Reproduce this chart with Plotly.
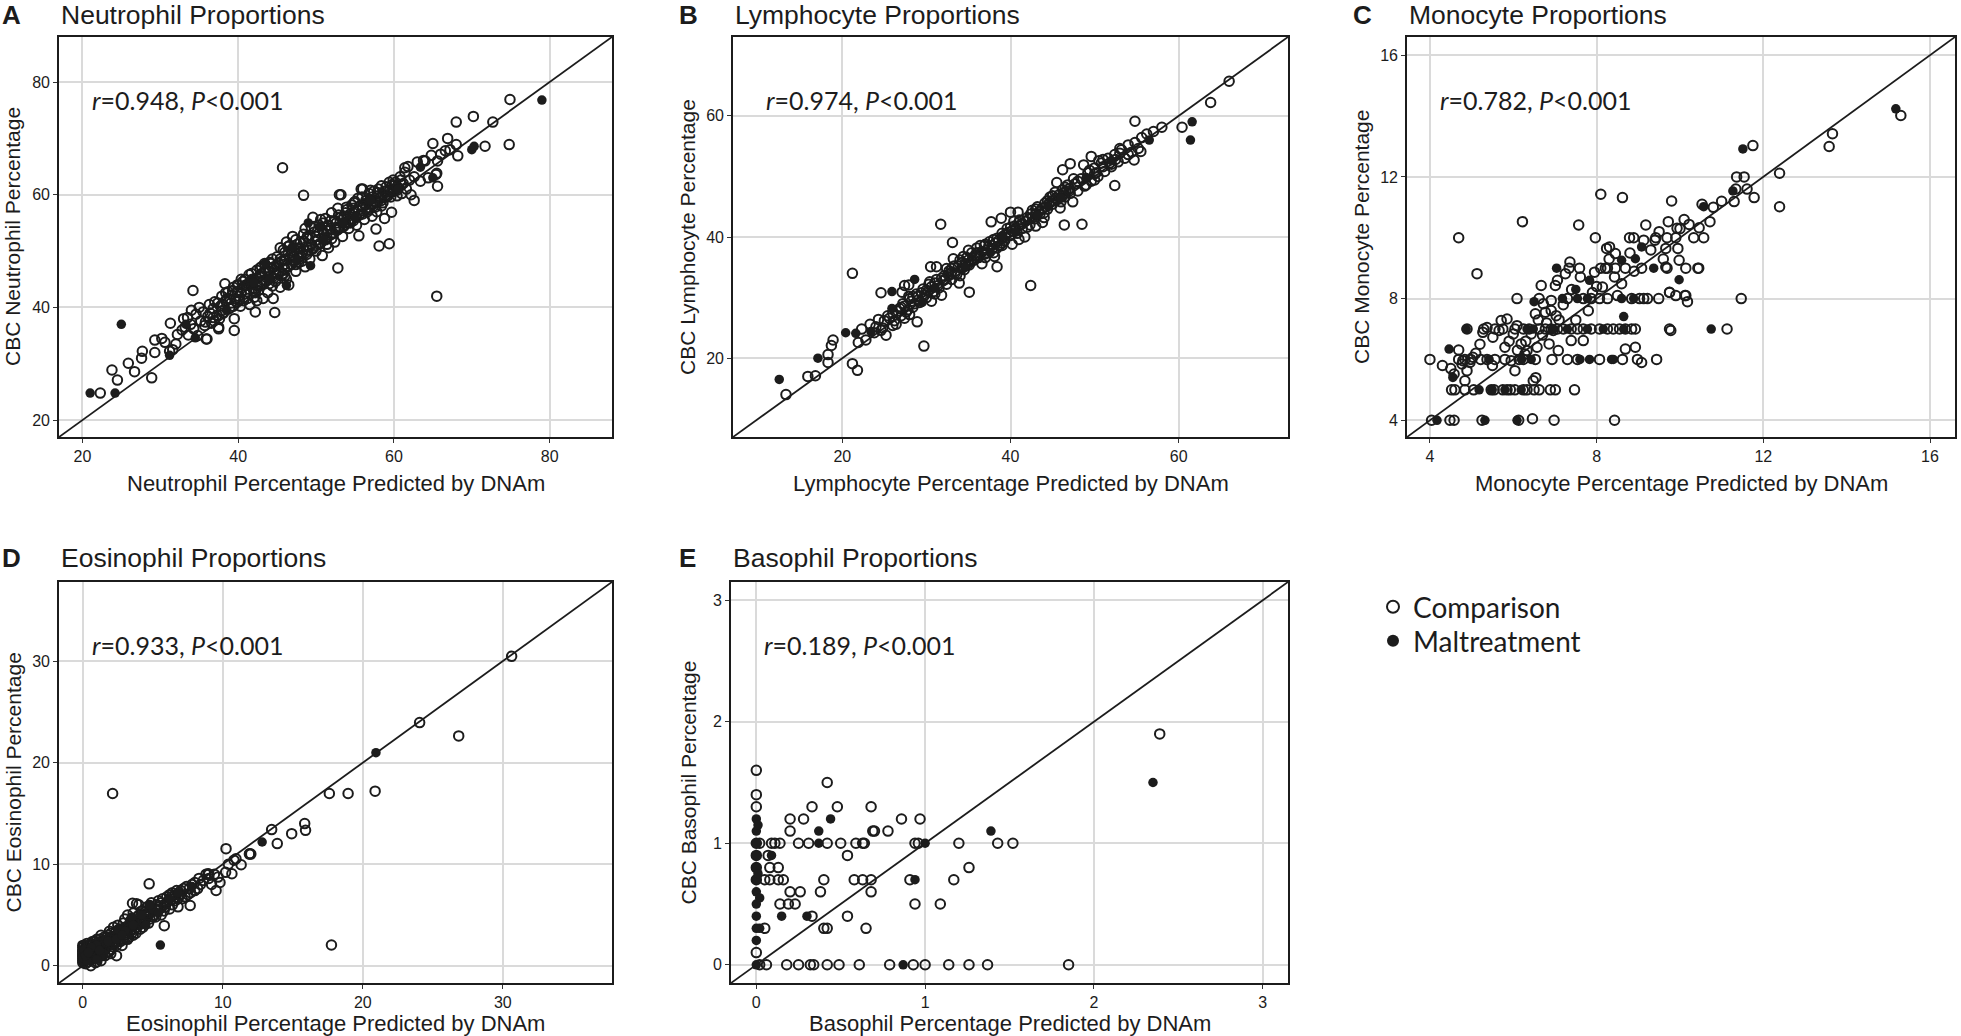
import plotly.graph_objects as go

W, H = 1961, 1036

# ---------------- data ----------------
neut_comparison = [
    (22.3,24.8),(23.8,28.9),(24.5,27.1),(25.9,30.1),(26.7,28.6),(27.6,31.0),(27.7,32.2),(28.9,27.5),
    (29.3,32.0),(29.3,34.2),(30.2,34.5),(30.6,33.8),(31.3,37.2),(31.2,32.2),(31.6,32.5),(32.0,33.5),
    (32.2,35.2),(32.8,36.0),(33.0,38.0),(33.6,35.1),(34.2,43.0),(34.0,39.5),
    (33.2,36.5),(33.5,38.2),(33.9,37.0),(34.3,36.2),(34.6,38.8),(34.8,35.0),(35.0,40.0),(35.2,37.6),
    (35.5,39.2),(35.7,36.8),(35.9,34.4),(36.1,38.4),(36.3,40.5),(36.6,37.2),(36.8,39.8),(37.0,41.0),
    (37.3,38.6),(37.5,36.2),(37.7,40.2),(37.9,42.0),(38.1,39.0),(38.3,44.2),(38.4,41.2),(38.7,42.8),
    (38.9,39.8),(39.1,40.8),(39.3,43.0),(39.5,38.0),(39.7,41.5),(39.9,44.0),(40.1,42.0),(40.3,40.2),
    (40.5,43.5),(40.7,41.2),(40.9,45.0),(41.1,42.8),(41.3,44.2),(41.5,40.5),(41.7,46.0),(41.9,43.4),
    (42.1,41.8),(42.2,39.2),(42.4,45.2),(42.6,43.0),(42.8,47.0),(43.0,44.4),(43.2,41.6),(43.4,46.2),
    (43.6,44.8),(43.8,42.6),(44.0,48.0),(44.2,45.6),(44.4,43.8),(44.6,47.2),(44.8,44.6),(45.0,49.0),
    (45.2,46.4),(45.4,43.6),(45.6,48.2),(45.8,50.2),(46.0,46.8),(46.2,45.0),(46.4,49.4),(46.6,51.0),
    (46.8,47.6),(47.0,52.6),(47.2,49.0),(47.4,46.4),(47.6,50.4),(47.8,48.0),(48.0,51.6),(48.2,49.6),
    (48.4,53.0),(48.6,47.2),(48.8,50.8),(49.0,52.2),(49.2,48.6),(49.4,51.2),(49.6,56.0),(49.8,53.4),
    (50.0,50.0),(50.2,52.0),(50.4,54.6),(50.6,51.4),(50.8,49.2),(51.0,53.0),(51.2,55.8),(51.4,52.4),
    (51.6,50.6),(51.8,54.0),(52.0,56.8),(52.2,53.2),(52.4,51.6),(52.6,55.0),(52.8,57.6),(53.0,54.2),
    (53.2,60.0),(53.4,52.6),(53.6,56.2),(53.8,55.0),(54.0,57.4),(54.2,54.0),(54.4,56.6),(54.6,58.2),
    (54.8,55.4),(55.0,57.0),(55.2,54.6),(55.4,59.4),(55.6,56.4),(55.8,61.0),(56.0,57.8),(56.2,55.6),
    (56.4,59.0),(56.6,57.0),(56.8,60.2),(57.0,58.4),(57.2,56.2),(57.4,60.6),(57.6,58.8),(57.8,57.0),
    (58.0,61.0),(58.2,59.4),(58.4,58.0),(58.6,60.0),(58.8,55.8),(59.0,61.4),(59.2,59.8),(59.4,62.2),
    (59.6,60.4),(59.8,61.8),(60.0,60.6),(60.2,62.2),(60.4,59.8),(60.6,61.2),(60.8,63.2),(61.0,60.2),
    (61.2,62.0),(61.4,64.0),(61.6,61.0),(61.8,65.0),(62.0,62.6),(62.2,60.0),(62.6,63.2),(63.0,65.8),
    (63.4,62.4),(64.0,66.0),(64.4,63.0),(64.8,67.0),(65.4,63.6),(66.0,67.2),(66.6,67.8),(67.2,68.0),
    (41.0,44.0),(42.0,45.0),(43.0,46.0),(44.0,46.4),(45.0,47.4),(46.0,48.4),(47.0,49.0),(48.0,50.4),
    (46.5,44.0),(44.5,41.6),(42.5,43.8),(40.0,44.0),(36.0,34.4),(37.5,36.5),(53.0,60.0),(56.0,61.0),
    (45.7,64.8),(48.4,59.9),(65.5,42.0),(52.8,47.0),(58.1,50.9),(59.4,51.3),(55.5,52.7),(57.7,53.9),
    (44.7,39.1),(39.5,35.9),(65.0,69.1),(66.9,70.0),(68.0,72.9),(70.2,73.9),(72.7,72.9),(74.9,76.9),
    (71.7,68.6),(74.8,68.9),(68.0,68.9),(68.2,66.9),(65.6,66.0),(65.6,61.5),(65.5,63.8),(63.8,66.1),
    (62.6,59.0),(61.4,64.8),(59.7,56.9),
    (38.0,40.6),(38.6,41.6),(39.2,42.2),(39.8,41.0),(40.4,42.6),(40.8,43.8),(41.2,41.6),(41.6,44.6),
    (42.0,43.0),(42.4,44.0),(42.8,45.6),(43.2,44.8),(43.6,46.6),(44.0,44.2),(44.4,47.0),(44.8,46.0),
    (45.2,47.8),(45.6,45.6),(46.0,49.8),(46.4,47.2),(46.8,50.0),(47.2,48.2),(47.6,51.2),(48.0,49.2),
    (48.4,51.8),(48.8,49.4),(49.2,52.8),(49.6,50.4),(50.0,52.6),(50.4,51.2),(50.8,53.8),(51.2,52.0),
    (51.6,54.6),(52.0,53.0),(52.4,55.4),(52.8,53.8),(53.2,56.0),(53.6,54.4),(54.0,56.0),(54.4,55.0),
    (54.8,57.6),(55.2,56.0),(55.6,58.0),(56.0,56.6),(56.4,58.2),(56.8,57.4),(57.2,59.6),(57.6,57.8),
    (58.0,59.8),(58.4,59.0),(58.8,60.6),(59.2,60.8),(59.6,59.6),(60.0,61.6),(60.4,60.8),(61.0,61.8),
    (44.2,47.8),(45.4,48.6),(46.6,48.8),(47.8,50.6),(49.0,50.2),(50.2,53.6),(51.4,53.6),(52.6,54.2),
    (53.8,56.8),(55.0,58.8),(43.0,47.2),(41.8,45.0),(40.6,44.6),(39.4,40.2),(37.6,38.0),(36.8,38.2),
    (35.8,37.4),(48.6,54.0),(50.6,55.6),(46.2,51.6),(57.0,60.8),(42.4,41.2),(45.8,46.0),(47.4,47.6),
    (36.4,39.0),(36.9,37.6),(37.4,40.8),(37.9,39.4),(38.4,42.6),(38.9,41.4),(39.4,43.6),(39.9,42.8),
    (40.4,45.0),(40.9,42.4),(41.4,45.8),(41.9,44.2),(42.4,46.6),(42.9,44.0),(43.4,47.8),(43.9,45.4),
    (44.4,48.6),(44.9,47.4),(45.4,50.6),(45.9,47.6),(46.4,50.8),(46.9,48.4),(47.4,52.0),(47.9,49.8),
    (48.4,50.2),(48.9,52.6),(49.4,54.2),(49.9,51.8),(50.4,53.2),(50.9,55.0),(51.4,51.2),(51.9,55.4),
    (52.4,54.0),(52.9,56.4),(53.4,55.6),(53.9,57.8),(54.4,55.6),(54.9,58.6),(55.4,57.2),(55.9,59.6),
    (56.4,57.6),(56.9,59.0),(57.4,58.0),(57.9,60.4),(58.4,61.6),(58.9,59.6),(59.4,60.6),(59.9,62.6),
    (60.4,61.4),(60.9,62.6),(44.6,45.2),(46.0,45.6),(48.2,48.2),(50.0,51.0),(52.0,52.2),(54.2,55.2),
    (42.2,42.6),(40.2,41.4),(56.2,58.4),(58.6,58.6),
]
neut_maltreatment = [
    (21.0,24.8),(24.2,24.8),(25.0,37.0),(79.0,76.8),(70.0,68.0),(70.3,68.6),(63.4,64.9),(65.0,63.0),
    (49.0,55.0),(49.3,47.4),(46.2,43.9),(34.5,34.6),(33.3,37.0),(42.0,44.4),(44.0,45.0),(47.0,50.8),
    (51.0,52.0),(53.5,55.0),(57.0,59.0),(60.5,61.0),(38.5,39.5),(43.5,47.8),(47.5,48.4),(50.5,54.4),
    (55.0,56.0),(31.2,31.5),
]

lymph_comparison = [
    (13.3,14.0),(15.9,17.0),(16.8,17.1),(18.3,19.3),(18.3,20.6),(18.7,22.1),(18.9,23.0),(21.2,19.1),
    (21.8,18.0),(21.2,34.0),(21.9,22.6),(29.7,22.0),(28.9,26.0),(31.7,42.1),(24.6,30.8),(42.4,32.0),
    (48.5,42.1),(46.4,42.0),(52.4,48.5),(54.8,59.1),(58.0,58.1),(60.4,58.1),(63.8,62.2),(66.0,65.7),
    (55.5,54.1),(54.7,52.7),(47.1,52.1),(46.2,51.1),(48.7,51.9),(49.6,53.3),(37.7,42.5),(38.9,43.1),
    (40.0,44.1),(40.9,44.1),(33.1,39.1),(33.2,36.4),(35.1,30.9),(38.4,35.1),(30.5,35.1),(31.2,35.1),
    (27.4,32.0),(27.9,32.1),(27.1,30.9),(27.9,30.2),(27.4,26.6),
    (22.3,24.8),(22.8,23.0),(23.3,25.6),(23.8,24.2),(24.3,26.4),(24.8,25.0),(25.2,23.8),(25.6,26.6),
    (26.0,27.4),(26.4,25.6),(26.8,28.2),(27.2,29.0),(27.6,27.6),(28.0,29.8),(28.4,28.4),(28.8,30.6),
    (29.2,29.2),(29.6,31.4),(30.0,30.0),(30.3,32.2),(30.6,29.4),(30.9,31.0),(31.2,33.0),(31.5,31.6),
    (31.8,30.4),(32.1,33.6),(32.4,32.2),(32.7,34.4),(33.0,33.0),(33.3,35.2),(33.6,33.8),(33.9,32.4),
    (34.2,35.8),(34.5,34.6),(34.8,36.6),(35.1,35.4),(35.4,37.4),(35.7,36.2),(36.0,38.2),(36.3,37.0),
    (36.6,35.6),(36.9,38.6),(37.2,37.4),(37.5,39.2),(37.8,38.0),(38.1,36.8),(38.4,39.8),(38.7,38.6),
    (39.0,40.6),(39.3,39.4),(39.6,41.4),(39.9,40.2),(40.2,38.8),(40.5,41.8),(40.8,40.6),(41.1,42.8),
    (41.4,41.4),(41.7,40.0),(42.0,43.2),(42.3,42.0),(42.6,44.4),(42.9,43.0),(43.2,45.0),(43.5,43.8),
    (43.8,42.4),(44.1,45.6),(44.4,44.6),(44.7,46.6),(45.0,45.4),(45.3,47.4),(45.6,46.2),(45.9,44.8),
    (46.2,47.8),(46.5,46.6),(46.8,48.6),(47.1,47.2),(47.4,45.8),(47.7,48.8),(48.0,47.6),(48.4,49.6),
    (48.8,48.4),(49.2,50.6),(49.6,49.2),(50.0,51.4),(50.4,50.0),(50.8,52.2),(51.2,50.8),(51.6,53.0),
    (52.0,51.6),(52.4,53.6),(52.8,52.4),(53.2,54.4),(53.6,53.0),(54.0,55.2),(54.4,54.0),(54.8,55.6),
    (55.2,54.6),(55.6,56.4),(56.2,57.0),(57.0,57.4),
    (34.0,36.2),(35.0,37.8),(36.0,36.8),(37.0,38.8),(38.0,37.4),(39.0,38.6),(40.0,41.6),(41.0,39.6),
    (43.0,41.8),(44.0,43.2),(45.5,49.0),(46.5,48.2),(47.5,49.6),(50.0,49.4),(50.5,52.6),(52.5,52.8),
    (24.0,25.2),(24.6,24.6),(25.4,27.0),(26.2,26.2),(26.6,27.8),(27.0,27.0),(27.4,28.6),(27.8,28.0),
    (28.2,29.4),(28.6,29.0),(29.0,30.2),(29.4,30.8),(29.8,30.4),(30.2,31.0),(30.6,31.8),(31.0,32.4),
    (31.4,32.0),(31.8,33.2),(32.2,33.0),(32.6,33.8),(33.0,34.2),(33.4,34.0),(33.8,35.2),(34.2,34.8),
    (34.6,35.6),(35.0,36.2),(35.4,36.0),(35.8,37.0),(36.2,36.6),(36.6,37.6),(37.0,37.2),(37.4,38.4),
    (37.8,38.6),(38.2,39.0),(38.6,39.4),(39.0,39.8),(39.4,40.4),(39.8,40.8),(40.2,41.0),(40.6,41.4),
    (41.0,41.8),(41.4,42.2),(41.8,42.6),(42.2,43.0),(42.6,43.2),(43.0,43.8),(43.4,44.2),(43.8,44.8),
    (44.2,45.0),(44.6,45.6),(45.0,46.0),(45.4,46.4),(45.8,47.0),(46.2,46.8),(46.6,47.6),(47.0,48.0),
    (49.4,51.0),(50.2,50.6),(51.0,51.6),(51.8,52.2),(53.0,53.8),
    (25.0,26.2),(26.0,25.4),(27.0,28.4),(28.0,27.2),(29.0,29.6),(30.0,31.2),(31.0,30.6),(32.0,32.8),
    (33.0,34.8),(34.0,33.6),(35.0,35.6),(36.0,37.4),(37.0,36.6),(38.0,39.6),(39.0,39.0),(40.0,40.4),
    (41.0,42.4),(42.0,41.6),(43.0,44.6),(44.0,44.0),(45.0,46.8),(46.0,45.8),(47.0,47.6),(48.0,49.2),
    (49.0,48.6),(50.0,50.4),(51.0,52.8),(52.0,52.0),(53.0,54.6),(54.0,53.6),(34.4,36.8),(36.4,38.6),
    (38.4,38.2),(40.4,42.6),(42.4,43.8),(32.4,34.8),(30.4,32.6),(28.4,30.2),(44.4,46.0),(46.4,47.2),
]
lymph_maltreatment = [
    (12.5,16.5),(17.1,20.0),(20.4,24.2),(21.6,24.1),(25.9,31.0),(25.9,28.2),(28.6,33.0),(56.5,56.0),
    (61.6,59.0),(61.4,56.0),(23.4,24.4),(31.0,31.6),(34.6,35.0),(37.6,37.4),(40.6,40.8),(43.2,43.6),
    (46.0,46.4),(49.0,49.8),(52.0,52.6),(29.5,29.2),(39.0,40.2),(44.5,45.0),
]

mono_comparison = [
    (4.04,4),(4.48,4),(4.58,4),(5.25,4),(6.13,4),(6.46,4.05),(6.98,4),(8.43,4),
    (4.52,5),(4.60,5),(4.84,5),(5.05,5),(5.47,5),(5.54,5),(5.75,5),(5.85,5),(5.93,5),(6.04,5),
    (6.24,5),(6.33,5),(6.50,5),(6.62,5),(6.89,5),(7.01,5),(7.47,5),
    (4.0,6),(4.69,6),(4.84,6),(4.98,6),(5.22,6),(5.37,6),(5.56,6),(5.80,6),(6.14,6),(6.24,6),
    (6.53,6),(6.93,6),(7.30,6),(7.54,6),(8.07,6),(8.62,6),(8.98,6),(9.08,5.9),(9.44,6),
    (4.89,7),(5.29,7),(5.56,7),(5.75,7),(6.04,7),(6.24,7),(6.38,7),(6.62,7),(6.77,7),(6.91,7),
    (7.06,7),(7.20,7),(7.39,7),(7.54,7),(7.68,7),(7.87,7),(8.07,7),(8.26,7),(8.40,7),(8.55,7),
    (8.69,7),(8.84,7),(8.93,7),(9.75,7),(9.78,6.95),(11.13,7),
    (6.09,8),(6.62,8),(7.30,8),(7.68,8),(7.87,8),(8.07,8),(8.26,8),(8.84,8),(9.03,8),(9.13,8),
    (9.22,8),(9.49,8),(9.75,8.2),(9.90,8.1),(10.12,8.1),(11.47,8),(10.18,7.9),
    (7.34,9),(7.59,9),(8.10,9),(8.21,9),(8.26,9),(8.45,9),(8.69,9),(9.08,9),(9.69,9),(10.14,9),
    (10.45,9),(9.98,9.26),(10.43,9.0),
    (4.69,10),(7.97,10),(8.79,10),(8.89,10),(9.42,10),(9.69,10),(10.33,10),(10.57,10),
    (5.13,8.82),(6.22,10.53),(7.57,10.42),(8.10,11.43),(8.62,11.32),(9.80,11.21),(9.18,10.42),
    (9.72,10.53),(9.93,10.31),(10.22,10.44),(10.46,10.33),(10.72,10.53),(10.53,11.1),(11.0,11.2),
    (11.3,11.19),(11.34,11.6),(11.36,12.0),(11.54,12.0),(11.61,11.6),(11.78,11.32),(11.75,13.03),
    (12.39,12.12),(12.39,11.02),(13.58,13.0),(13.66,13.42),(15.30,14.02),(8.24,9.65),(8.31,9.7),
    (8.45,9.48),(9.13,9.92),(9.40,9.92),(9.66,9.65),(9.95,9.65),(9.66,9.04),(9.75,8.21),(10.14,8.1),
    (4.69,6.31),(4.77,5.85),(4.89,5.63),(4.96,5.9),(5.03,6.07),(5.10,6.2),(5.27,6.89),(5.37,7.05),
    (5.51,6.73),(5.71,7.28),(5.85,7.33),(6.0,6.84),(6.09,7.11),(5.66,6.95),(5.80,6.4),(5.95,5.96),
    (6.04,5.63),(6.19,6.51),(6.28,6.18),(6.33,6.29),(6.53,7.5),(6.72,7.83),(6.77,7.55),(6.91,7.61),
    (6.91,7.94),(7.03,7.44),(6.67,8.43),(7.01,8.43),(7.06,8.6),(7.25,8.82),(7.36,9.2),(7.61,8.71),
    (7.95,8.87),(8.14,8.38),(8.43,8.71),(8.60,8.49),(6.43,6.84),(6.57,6.4),(6.48,5.3),(6.54,5.4),
    (6.86,6.51),(7.08,6.29),(6.96,6.95),(7.39,6.62),(7.68,6.62),(8.69,6.34),(8.93,6.4),(4.79,5.96),
    (4.58,5.52),(4.84,5.3),(6.3,6.6),(6.6,7.3),(7.2,7.8),(7.4,8.3),(7.8,7.6),(8.0,8.4),(8.3,9.3),
    (8.8,9.5),(9.3,9.6),(9.5,10.2),(9.9,10.0),(10.0,10.3),(6.8,7.2),(7.5,7.3),(5.5,5.8),(5.9,6.6),
    (6.1,6.3),(4.3,5.8),(4.5,5.7),(5.2,6.5),(6.7,6.8),(7.1,7.3),(7.9,8.2),(8.5,8.1),(8.9,8.9),
    (9.6,9.3),(10.1,10.6),(10.8,11.0),
]
mono_maltreatment = [
    (4.17,4),(5.32,4),(6.09,4),(5.18,5),(5.48,5),(5.80,5),(6.19,5),(5.42,6),(6.43,6),(7.60,6),
    (7.83,6),(8.36,6),(8.40,6),(4.87,7),(6.33,7),(6.48,7),(6.96,7),(7.30,7),(7.78,7),(8.16,7),
    (8.65,7),(10.75,7),(7.18,8),(7.54,8),(7.78,8),(8.60,8),(8.89,8),(7.04,9),(9.37,9),(9.98,8.62),
    (4.46,6.34),(4.55,5.41),(8.60,9.26),(8.93,9.31),(9.08,9.7),(11.51,12.92),(11.27,11.54),
    (10.57,11.02),(15.18,14.24),(7.83,8.6),(8.65,7.41),(6.5,7.9),(7.5,8.3),(6.2,6.0),
]

eos_comparison = [
    (2.13,16.97),(4.74,8.07),(10.23,11.53),(13.49,13.41),(13.89,12.03),(14.92,13.01),(15.85,14.0),
    (15.91,13.34),(17.61,16.97),(18.95,16.97),(20.88,17.2),(24.06,23.95),(26.85,22.64),(30.63,30.48),
    (17.76,2.04),(11.31,9.95),(10.94,10.54),(11.93,11.04),(10.65,9.06),(9.66,8.73),(8.95,9.06),
    (7.67,5.93),(9.52,7.41),(3.55,6.16),(3.84,6.1),(2.41,0.99),(0.57,0.0),(5.82,3.95),
    (0.0,0.5),(0.0,1.0),(0.0,1.5),(0.0,2.0),(0.1,0.8),(0.1,1.3),(0.2,0.6),(0.2,1.8),(0.3,1.1),
    (0.3,2.2),(0.4,0.4),(0.4,1.6),(0.5,0.9),(0.5,2.0),(0.6,1.4),(0.7,0.7),(0.7,2.4),(0.8,1.2),
    (0.9,1.8),(1.0,0.8),(1.0,2.6),(1.1,1.6),(1.2,2.0),(1.3,3.0),(1.4,1.4),(1.5,2.4),(1.6,1.0),
    (1.7,2.8),(1.8,2.0),(1.9,3.4),(2.0,1.6),(2.1,2.6),(2.2,3.8),(2.3,2.2),(2.4,3.0),(2.5,4.0),
    (2.6,2.6),(2.7,3.4),(2.8,2.0),(2.9,4.2),(3.0,3.0),(3.1,3.8),(3.2,5.0),(3.3,2.8),(3.4,4.4),
    (3.5,3.6),(3.6,5.2),(3.7,4.0),(3.8,3.2),(3.9,4.8),(4.0,6.0),(4.1,4.2),(4.2,5.4),(4.3,3.8),
    (4.4,5.0),(4.5,4.6),(4.6,5.8),(4.7,4.2),(4.8,5.2),(4.9,6.2),(5.0,4.8),(5.2,5.6),(5.4,6.4),
    (5.6,5.0),(5.8,6.0),(6.0,6.8),(6.2,5.6),(6.4,7.2),(6.6,6.4),(6.8,5.8),(7.0,7.0),(7.2,7.6),
    (7.5,7.0),(7.8,8.0),(8.2,7.6),(8.6,8.4),(8.8,9.0),(9.0,8.6),(9.4,9.0),(9.8,8.2),(10.2,9.2),
    (10.4,10.0),(10.8,10.4),(11.9,11.0),(12.0,11.0),
    (0.2,0.2),(0.5,1.2),(0.8,1.6),(1.2,1.2),(1.5,1.8),(1.8,2.6),(2.2,2.8),(2.5,3.2),(2.8,3.6),
    (3.2,3.6),(3.5,4.2),(1.0,1.4),(0.6,0.6),(1.3,2.2),(2.0,3.2),(3.0,4.6),(1.3,0.5),(0.9,0.3),
    (0.0,0.3),(0.0,0.7),(0.0,1.2),(0.0,1.8),(0.1,1.0),(0.1,0.4),(0.1,2.0),(0.2,1.2),(0.2,1.5),
    (0.3,0.8),(0.3,1.6),(0.4,1.0),(0.4,2.0),(0.5,0.6),(0.5,1.6),(0.6,1.0),(0.6,2.2),(0.7,1.4),
    (0.7,1.8),(0.8,0.9),(0.8,2.0),(0.9,1.3),(0.9,2.4),(1.0,1.1),(1.1,2.0),(1.1,1.3),(1.2,1.7),
    (1.2,2.6),(1.3,1.5),(1.4,2.2),(1.4,1.0),(1.5,2.8),(1.6,1.6),(1.6,2.4),(1.7,1.9),(1.8,3.0),
    (1.9,2.2),(1.9,1.4),(2.0,2.8),(2.1,1.9),(2.2,2.4),(2.3,3.2),(2.4,2.0),(2.5,2.8),(2.6,3.6),
    (2.7,2.4),(2.8,3.2),(2.9,2.6),(3.0,3.8),(3.1,3.2),(3.2,2.6),(3.3,4.0),(3.4,3.4),(3.5,4.6),
    (3.6,3.0),(3.7,4.4),(3.8,3.8),(3.9,4.2),(4.0,5.0),(4.1,3.6),(4.2,4.6),(4.4,4.2),(4.6,5.2),
    (4.8,4.6),(5.0,5.4),(5.2,4.8),(5.4,5.8),(5.6,6.2),(5.8,5.4),(6.0,6.2),(6.2,7.0),(6.4,6.0),
    (6.6,7.0),(6.8,6.6),(7.0,7.4),(7.3,6.8),(7.6,7.6),(8.0,7.4),(8.4,8.0),(9.0,9.0),(9.2,8.0),
    (1.0,0.4),(2.0,1.2),
    (0.0,0.9),(0.0,1.4),(0.1,0.6),(0.2,0.9),(0.3,1.4),(0.4,0.7),(0.5,1.0),(0.6,1.6),(0.7,1.0),
    (0.8,1.4),(0.9,1.0),(1.0,1.8),(1.1,0.9),(1.2,2.2),(1.3,1.8),(1.5,1.5),(1.7,2.4),(1.9,2.6),
    (2.1,2.2),(2.3,2.8),(2.5,2.4),(2.7,3.0),(2.9,3.4),(3.1,2.8),(3.3,3.6),(3.5,3.2),(3.7,3.6),
    (3.9,3.8),(4.1,4.8),(4.3,4.4),(4.5,5.4),(4.7,5.0),(4.9,5.6),(5.1,5.0),(5.3,6.0),(5.5,5.6),
    (5.7,6.6),(5.9,5.8),(6.1,6.4),(6.3,6.8),(6.5,6.6),(6.7,7.4),(6.9,7.0),(7.1,6.6),(7.4,7.8),
    (7.7,7.2),(8.0,8.2),(8.3,8.6),
]
eos_maltreatment = [
    (20.94,20.99),(12.81,12.19),(5.54,2.04),(4.74,6.03),(0.0,0.8),(0.1,1.6),(0.5,1.5),(1.0,2.0),
    (1.5,1.2),(2.0,2.4),(2.5,3.6),(3.0,3.4),(3.5,4.8),(4.5,4.0),(5.0,5.6),(6.2,6.6),(0.3,0.5),
    (1.3,0.9),(0.2,1.0),(0.6,1.8),(1.2,1.5),(1.8,2.4),(2.4,2.6),(2.8,3.0),(3.6,4.0),(4.2,5.0),
    (5.4,5.2),(6.8,7.2),(7.8,7.8),(0.4,1.3),(1.0,0.6),(4.8,6.0),
]

baso_comparison = [
    (0,1.6),(0,1.4),(0,1.3),(0,0.1),(0,1.0),(0,0.9),(0,0.8),(0,0.7),
    (0.02,1),(0.09,1),(0.11,1),(0.14,1),(0.25,1),(0.31,1),(0.42,1),(0.50,1),(0.59,1),(0.63,1),
    (0.64,1),(0.94,1),(0.96,1),(1.20,1),(1.43,1),(1.52,1),
    (0.20,1.1),(0.69,1.1),(0.70,1.1),(0.78,1.1),
    (0.20,1.2),(0.28,1.2),(0.86,1.2),(0.97,1.2),
    (0.33,1.3),(0.48,1.3),(0.68,1.3),(0.42,1.5),(2.39,1.9),
    (0.07,0.9),(0.54,0.9),(0.08,0.8),(0.13,0.8),(1.26,0.8),
    (0.05,0.7),(0.08,0.7),(0.13,0.7),(0.16,0.7),(0.40,0.7),(0.58,0.7),(0.63,0.7),(0.68,0.7),
    (0.91,0.7),(1.17,0.7),
    (0.20,0.6),(0.26,0.6),(0.38,0.6),(0.68,0.6),
    (0.14,0.5),(0.19,0.5),(0.23,0.5),(0.94,0.5),(1.09,0.5),
    (0.33,0.4),(0.54,0.4),
    (0.05,0.3),(0.40,0.3),(0.42,0.3),(0.65,0.3),
    (0.02,0),(0.06,0),(0.18,0),(0.25,0),(0.32,0),(0.34,0),(0.42,0),(0.49,0),(0.61,0),(0.79,0),
    (0.93,0),(1.00,0),(1.14,0),(1.26,0),(1.37,0),(1.85,0),
]
baso_maltreatment = [
    (0,1.2),(0,1.1),(0,1.0),(0,0.9),(0,0.8),(0,0.7),(0,0.6),(0,0.5),(0,0.4),(0,0.3),(0,0.2),(0,0.0),
    (0.37,1.0),(1.00,1.0),(0.37,1.1),(1.39,1.1),(0.44,1.2),(0.09,0.9),(0.94,0.7),(0.15,0.4),
    (0.30,0.4),(0.02,0.3),(0.87,0),(2.35,1.5),(0.01,1.15),(0.01,0.75),(0.02,0.55),
]

panel_letters = ["A", "B", "C", "D", "E"]
panel_titles = ["Neutrophil Proportions", "Lymphocyte Proportions", "Monocyte Proportions",
                "Eosinophil Proportions", "Basophil Proportions"]
cell_names = ["Neutrophil", "Lymphocyte", "Monocyte", "Eosinophil", "Basophil"]
r_values = ["0.948", "0.974", "0.782", "0.933", "0.189"]
axis_ranges = [[17.0, 88.0], [7.0, 73.0], [3.45, 16.6], [-1.7, 37.8], [-0.15, 3.15]]
tick_values = [[20, 40, 60, 80], [20, 40, 60], [4, 8, 12, 16], [0, 10, 20, 30], [0, 1, 2, 3]]
group_names = ["Comparison", "Maltreatment"]
panel_data = [
    (neut_comparison, neut_maltreatment),
    (lymph_comparison, lymph_maltreatment),
    (mono_comparison, mono_maltreatment),
    (eos_comparison, eos_maltreatment),
    (baso_comparison, baso_maltreatment),
]

# ---------------- layout (pixel boxes) ----------------
frames = [  # left, right, top, bottom in px
    (59, 612, 37, 437),
    (733, 1288, 37, 437),
    (1407, 1955, 37, 437),
    (59, 612, 582, 983),
    (731, 1288, 582, 983),
]
letter_x = [0, 677, 1351, 0, 677]
ytitle_x = [13, 688, 1362, 13, 688]

def px(x):
    return x / W

def py(y):
    return 1 - y / H

INK = "#1c1c1c"
TXT_FONT = "Liberation Sans, Arial, Helvetica, sans-serif"
ANN_FONT = "Lato, Carlito, Open Sans, sans-serif"

fig = go.Figure()
leg_common = dict(x=px(1373), xanchor="left", yanchor="top",
                  font=dict(family=ANN_FONT, size=28, color=INK),
                  itemsizing="constant", bgcolor="rgba(0,0,0,0)")
layout = dict(
    width=W, height=H, margin=dict(l=0, r=0, t=0, b=0),
    paper_bgcolor="white", plot_bgcolor="white",
    font=dict(family=TXT_FONT, color=INK),
    showlegend=True,
    legend=dict(y=py(582), **leg_common),
    legend2=dict(y=py(616), **leg_common),
)
annotations = []

for i in range(5):
    ax = "" if i == 0 else str(i + 1)
    l, r, t, b = frames[i]
    rng = axis_ranges[i]
    common = dict(range=rng, tickvals=tick_values[i], showgrid=True, gridcolor="#dadada",
                  gridwidth=1.6, zeroline=False, showline=True, mirror=True, linecolor=INK,
                  linewidth=1.6, ticks="outside", ticklen=4, tickwidth=1.2, tickcolor="#333",
                  tickfont=dict(family=TXT_FONT, size=16, color=INK))
    layout["xaxis" + ax] = dict(domain=[px(l), px(r)], anchor="y" + ax, **common)
    layout["yaxis" + ax] = dict(domain=[py(b), py(t)], anchor="x" + ax, **common)

    comp, mal = panel_data[i]
    # identity line spanning the axis range
    fig.add_trace(go.Scatter(x=rng, y=rng, mode="lines", line=dict(color=INK, width=1.8),
                             xaxis="x" + ax, yaxis="y" + ax, showlegend=False, hoverinfo="skip"))
    cx, cy = zip(*comp)
    fig.add_trace(go.Scatter(x=cx, y=cy, mode="markers", name=group_names[0],
                             marker=dict(symbol="circle-open", size=9.5, color=INK,
                                         line=dict(width=2.0, color=INK)),
                             xaxis="x" + ax, yaxis="y" + ax, showlegend=(i == 0), legend="legend"))
    mx, my = zip(*mal)
    fig.add_trace(go.Scatter(x=mx, y=my, mode="markers", name=group_names[1],
                             marker=dict(symbol="circle", size=9.5, color=INK),
                             xaxis="x" + ax, yaxis="y" + ax, showlegend=(i == 0), legend="legend2"))

    title_y = 15 if i < 3 else 558
    annotations.append(dict(text="<b>%s</b>" % panel_letters[i], x=px(letter_x[i]), y=py(title_y),
                            xref="paper", yref="paper", xanchor="left", yanchor="middle",
                            showarrow=False, font=dict(family=TXT_FONT, size=26, color=INK)))
    annotations.append(dict(text=panel_titles[i], x=px(l), y=py(title_y),
                            xref="paper", yref="paper", xanchor="left", yanchor="middle",
                            showarrow=False, font=dict(family=TXT_FONT, size=26.5, color=INK)))
    r_y = 100 if i < 3 else 645
    annotations.append(dict(text="<i>r</i>=%s, <i>P</i>&lt;0.001" % r_values[i],
                            x=px(l + 31), y=py(r_y), xref="paper", yref="paper",
                            xanchor="left", yanchor="middle", showarrow=False,
                            font=dict(family=ANN_FONT, size=25, color=INK)))
    xt_y = 483 if i < 3 else 1023
    annotations.append(dict(text="%s Percentage Predicted by DNAm" % cell_names[i],
                            x=px((l + r) / 2), y=py(xt_y), xref="paper", yref="paper",
                            xanchor="center", yanchor="middle", showarrow=False,
                            font=dict(family=TXT_FONT, size=22, color=INK)))
    annotations.append(dict(text="CBC %s Percentage" % cell_names[i],
                            x=px(ytitle_x[i]), y=py((t + b) / 2), xref="paper", yref="paper",
                            xanchor="center", yanchor="middle", showarrow=False, textangle=-90,
                            font=dict(family=TXT_FONT, size=21, color=INK)))

layout["annotations"] = annotations
fig.update_layout(**layout)
fig.write_html("out.html", config={"displayModeBar": False},
               post_script="document.body.style.margin='0';document.body.style.overflow='hidden';")
